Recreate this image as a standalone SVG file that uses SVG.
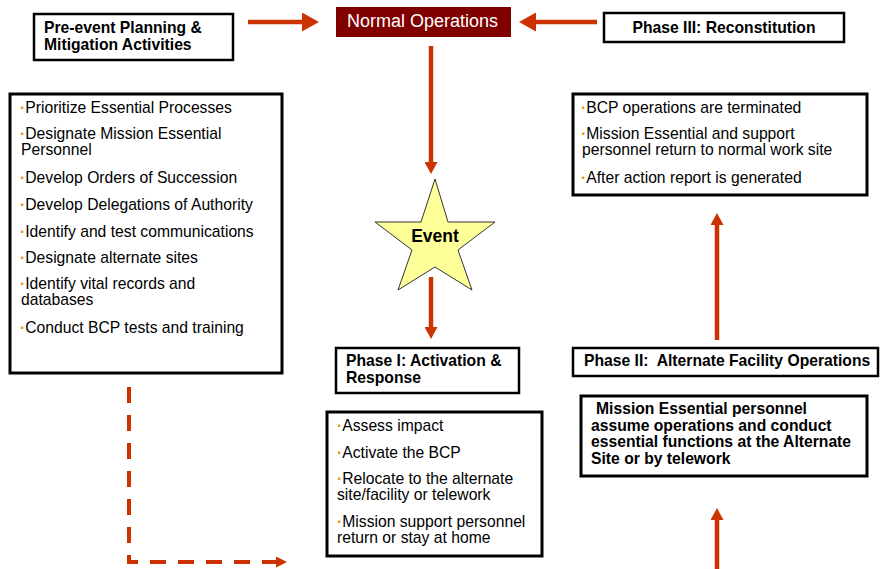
<svg xmlns="http://www.w3.org/2000/svg" width="880" height="569" viewBox="0 0 880 569">
<style>
text{font-family:"Liberation Sans",Arial,Helvetica,sans-serif;font-size:15.7px;fill:#000}
.bd{font-weight:bold}
.b{fill:#e39b14;font-weight:bold}
.box{fill:#fff;stroke:#000;stroke-width:3}
.hdr{fill:#fff;stroke:#000;stroke-width:2.5}
.arr{fill:none;stroke:#cc3300;stroke-width:4.5}
.dash{fill:none;stroke:#cc3300;stroke-width:4;stroke-dasharray:16 12}
</style>
<defs>
<marker id="hH" viewBox="0 0 10 10" refX="0" refY="5" markerUnits="userSpaceOnUse" markerWidth="17" markerHeight="19" orient="auto" preserveAspectRatio="none"><path d="M0,0 L10,5 L0,10 z" fill="#cc3300"/></marker>
<marker id="hV" viewBox="0 0 10 10" refX="0" refY="5" markerUnits="userSpaceOnUse" markerWidth="12" markerHeight="13" orient="auto" preserveAspectRatio="none"><path d="M0,0 L10,5 L0,10 z" fill="#cc3300"/></marker>
<marker id="hD" viewBox="0 0 10 10" refX="0" refY="5" markerUnits="userSpaceOnUse" markerWidth="11" markerHeight="11" orient="auto" preserveAspectRatio="none"><path d="M0,0 L10,5 L0,10 z" fill="#cc3300"/></marker>
</defs>

<g id="connectors">
<line class="arr" x1="248" y1="22" x2="302" y2="22" marker-end="url(#hH)"/>
<line class="arr" x1="597" y1="22" x2="536" y2="22" marker-end="url(#hH)"/>
<line class="arr" x1="431" y1="46" x2="431" y2="162" marker-end="url(#hV)"/>
<line class="arr" x1="431" y1="277" x2="431" y2="327" marker-end="url(#hV)"/>
<line class="arr" x1="717" y1="340" x2="717" y2="225" marker-end="url(#hV)"/>
<line class="arr" x1="717" y1="569" x2="717" y2="520" marker-end="url(#hV)"/>
<path class="dash" d="M129,387 V562 H276" marker-end="url(#hD)"/>
</g>

<g id="pre-event">
<rect class="hdr" x="34" y="14" width="199" height="46"/>
<text class="bd" x="44" y="33">Pre-event Planning &amp;</text>
<text class="bd" x="44" y="50">Mitigation Activities</text>
</g>

<g id="normal-operations">
<rect x="336" y="7" width="175" height="30" fill="#800000"/>
<text x="347" y="27" style="font-size:18px;fill:#fff">Normal Operations</text>
</g>

<g id="phase3">
<rect class="hdr" x="604" y="13" width="240" height="29"/>
<text class="bd" x="724" y="33" text-anchor="middle">Phase III: Reconstitution</text>
</g>

<g id="pre-event-list">
<rect class="box" x="10" y="94" width="272" height="279"/>
<text x="20" y="113"><tspan class="b">·</tspan>Prioritize Essential Processes</text>
<text x="20" y="139"><tspan class="b">·</tspan>Designate Mission Essential</text>
<text x="21" y="155">Personnel</text>
<text x="20" y="183"><tspan class="b">·</tspan>Develop Orders of Succession</text>
<text x="20" y="210"><tspan class="b">·</tspan>Develop Delegations of Authority</text>
<text x="20" y="237"><tspan class="b">·</tspan>Identify and test communications</text>
<text x="20" y="263"><tspan class="b">·</tspan>Designate alternate sites</text>
<text x="20" y="289"><tspan class="b">·</tspan>Identify vital records and</text>
<text x="21" y="305">databases</text>
<text x="20" y="333"><tspan class="b">·</tspan>Conduct BCP tests and training</text>
</g>

<g id="phase3-list">
<rect class="box" x="573" y="94" width="294" height="101"/>
<text x="581" y="113"><tspan class="b">·</tspan>BCP operations are terminated</text>
<text x="581" y="139"><tspan class="b">·</tspan>Mission Essential and support</text>
<text x="582" y="155">personnel return to normal work site</text>
<text x="581" y="183"><tspan class="b">·</tspan>After action report is generated</text>
</g>

<g id="event">
<polygon points="435,179 448,222 495,222 458,250 472,290 435,267 398,290 412,250 375,222 421,222" fill="#ffff99" stroke="#333" stroke-width="1"/>
<text class="bd" x="435" y="242" text-anchor="middle" style="font-size:17.5px">Event</text>
</g>

<g id="phase1">
<rect class="hdr" x="336" y="348" width="183" height="45"/>
<text class="bd" x="346" y="366">Phase I: Activation &amp;</text>
<text class="bd" x="346" y="383">Response</text>
</g>

<g id="phase1-list">
<rect class="box" x="327" y="412" width="215" height="144"/>
<text x="337" y="431"><tspan class="b">·</tspan>Assess impact</text>
<text x="337" y="458"><tspan class="b">·</tspan>Activate the BCP</text>
<text x="337" y="484"><tspan class="b">·</tspan>Relocate to the alternate</text>
<text x="337" y="500">site/facility or telework</text>
<text x="337" y="527"><tspan class="b">·</tspan>Mission support personnel</text>
<text x="337" y="543">return or stay at home</text>
</g>

<g id="phase2">
<rect class="hdr" x="573" y="348" width="305" height="28"/>
<text class="bd" x="584" y="366" xml:space="preserve">Phase II:  Alternate Facility Operations</text>
</g>

<g id="phase2-desc">
<rect class="box" x="581" y="396" width="286" height="80"/>
<text class="bd" x="596" y="414">Mission Essential personnel</text>
<text class="bd" x="591" y="431">assume operations and conduct</text>
<text class="bd" x="591" y="447">essential functions at the Alternate</text>
<text class="bd" x="591" y="464">Site or by telework</text>
</g>
</svg>
